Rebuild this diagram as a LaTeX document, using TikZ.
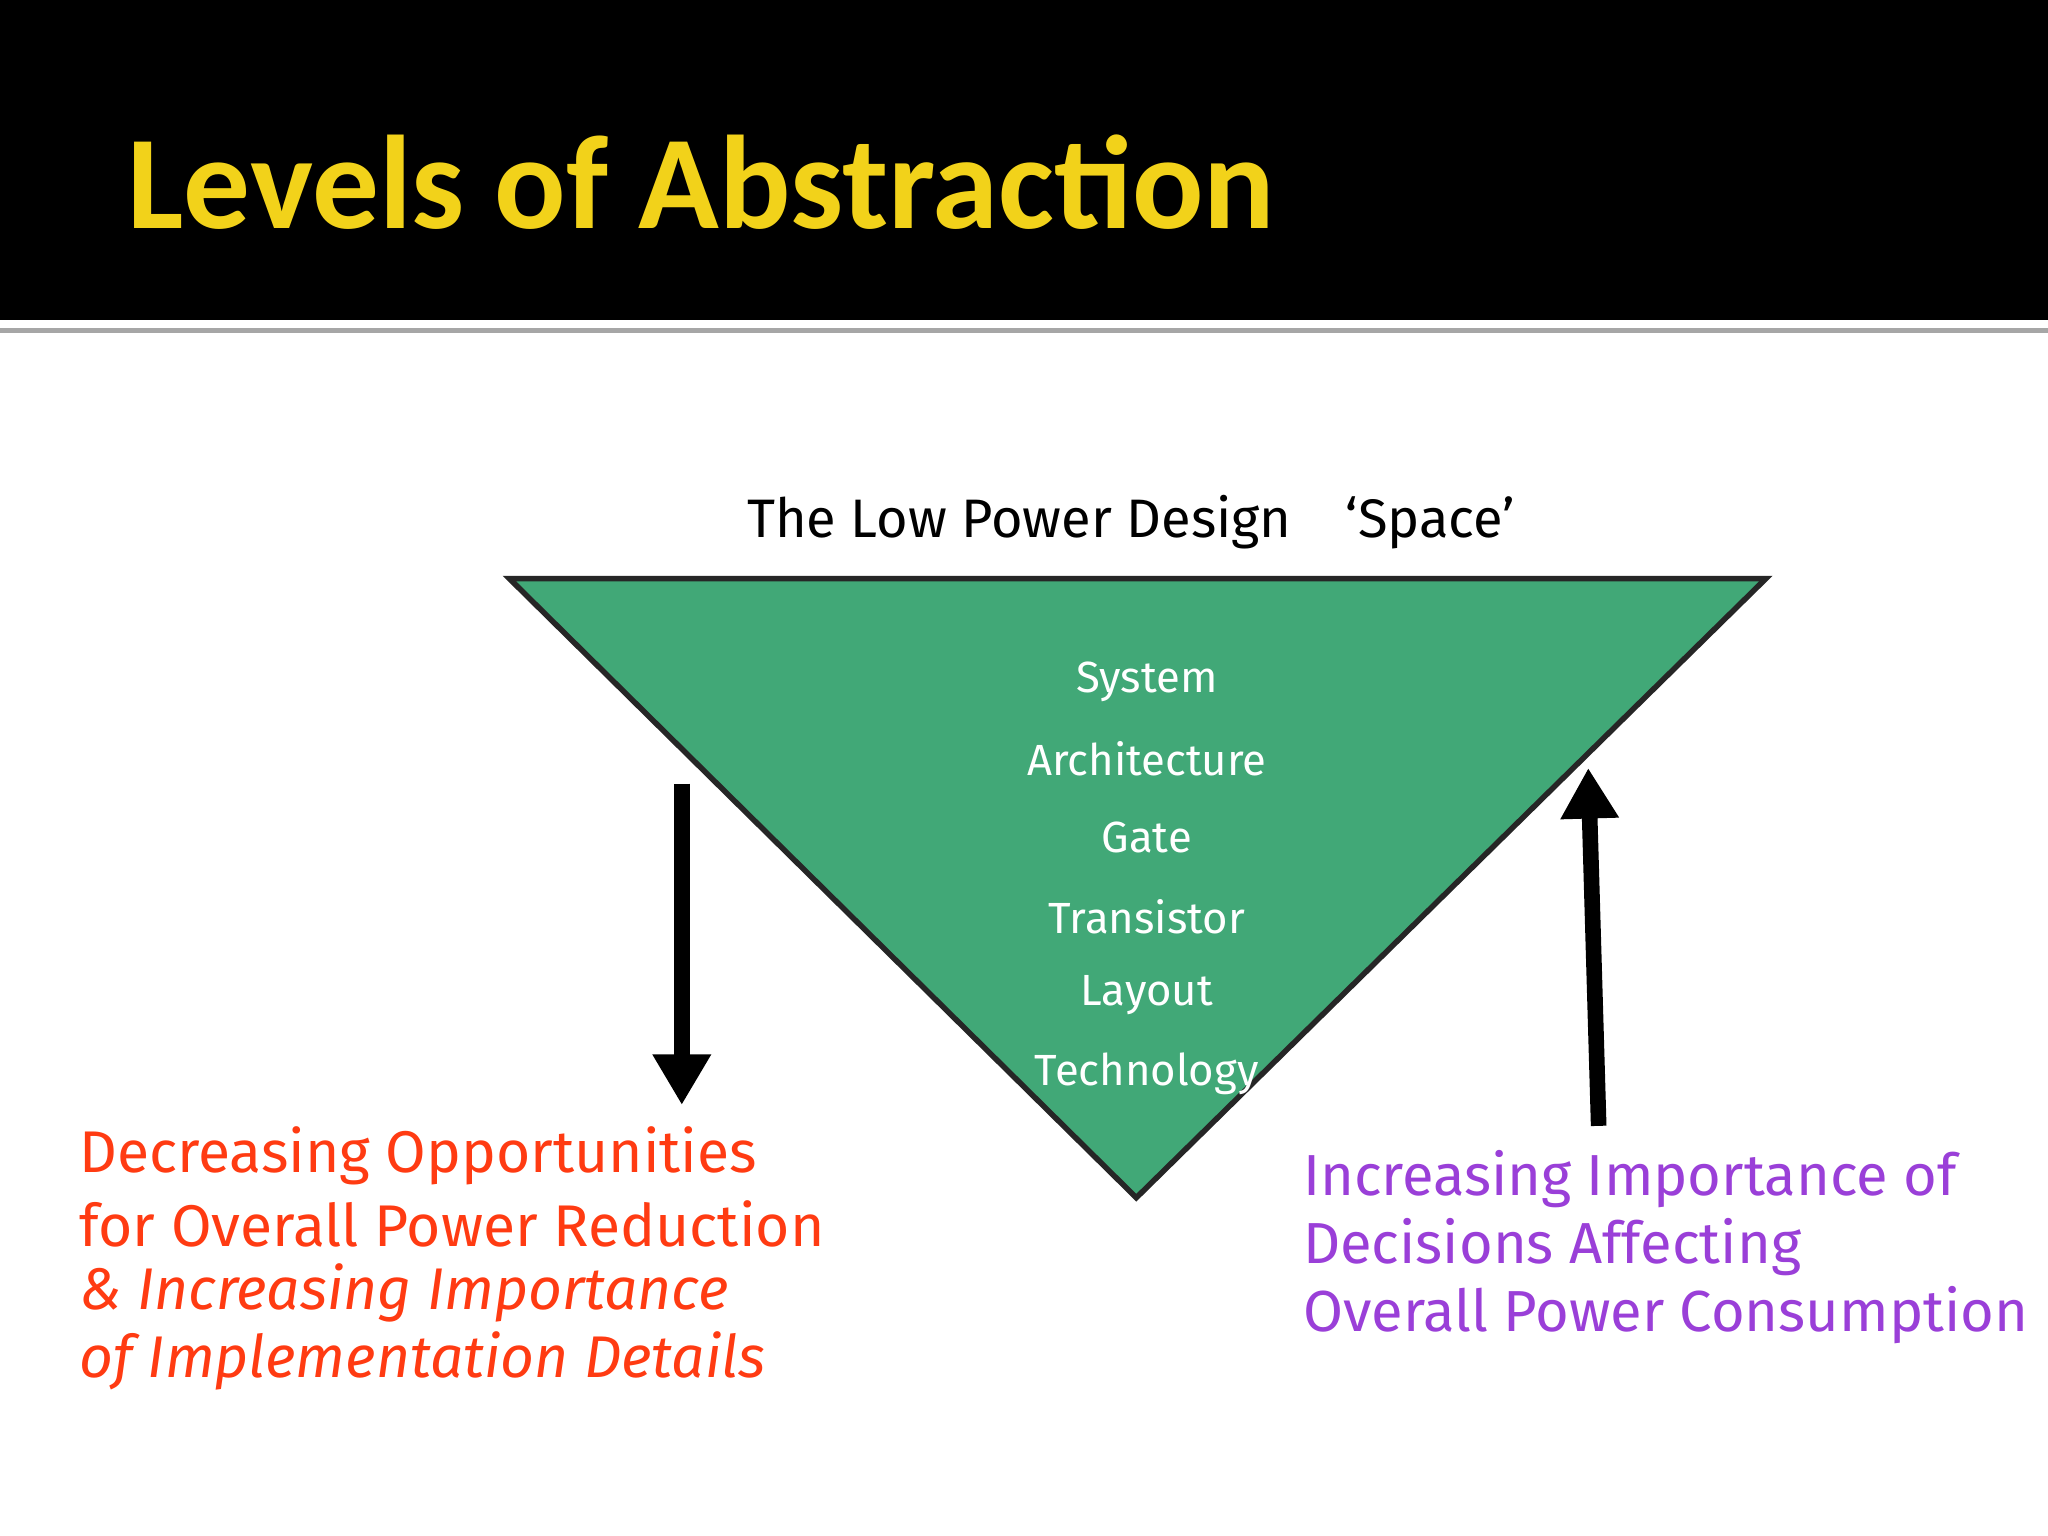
\documentclass[tikz,border=0pt]{standalone}
\usepackage{fontspec}
\usetikzlibrary{arrows.meta}
\setmainfont{Fira Sans}
\newfontfamily\titlefont{Carlito}
\definecolor{tgreen}{HTML}{41A877}
\definecolor{tred}{HTML}{FF3B12}
\definecolor{tpurple}{HTML}{9A3FD8}
\definecolor{tyellow}{HTML}{F2D21A}
\begin{document}
\begin{tikzpicture}[x=0.01cm,y=-0.01cm,
  lvl/.style={text=white,font=\fontsize{9.5}{11}\selectfont,anchor=center},
  redtxt/.style={text=tred,font=\fontsize{12.8}{15}\selectfont,anchor=west,inner sep=0},
  purptxt/.style={text=tpurple,font=\fontsize{12.6}{15}\selectfont,anchor=west,inner sep=0},
  bigarrow/.style={line width=3.4pt,-{Triangle[length=11pt,width=12pt]}}]
\useasboundingbox (0,0) rectangle (1568,1176);
\fill[white] (0,0) rectangle (1568,1176);
\fill[black] (0,0) rectangle (1568,245);
\draw[gray!70,line width=1pt] (0,253) -- (1568,253);
\node[anchor=base west,inner sep=0,text=tyellow,font=\titlefont\bfseries\fontsize{29}{32}\selectfont] (title) at (97,175) {Levels of Abstraction};
\node[anchor=center,font=\fontsize{11.8}{14}\selectfont] (head) at (866,400) {The Low Power Design\quad `Space'};
\draw[fill=tgreen,draw=black!85,line width=1.2pt] (390,443) -- (1352,443) -- (870,917) -- cycle;
\node[lvl] (l1) at (878,522) {System};
\node[lvl] (l2) at (878,581) {Architecture};
\node[lvl] (l3) at (878,641) {Gate};
\node[lvl] (l4) at (878,702) {Transistor};
\node[lvl] (l5) at (878,762) {Layout};
\node[lvl] (l6) at (878,822) {Technology};
\coordinate (a1) at (522,600); \coordinate (a2) at (522,846);
\coordinate (b1) at (1224,862); \coordinate (b2) at (1216,588);
\draw[bigarrow] (a1) -- (a2);
\draw[bigarrow] (b1) -- (b2);
\node[redtxt] (r1) at (60,885) {Decreasing Opportunities};
\node[redtxt] (r2) at (60,937) {for Overall Power Reduction};
\node[redtxt,font=\itshape\fontsize{12.8}{15}\selectfont] (r3) at (60,990) {\& Increasing Importance};
\node[redtxt,font=\itshape\fontsize{12.8}{15}\selectfont] (r4) at (60,1042) {of Implementation Details};
\node[purptxt] (p1) at (997,903) {Increasing Importance of};
\node[purptxt] (p2) at (997,955) {Decisions Affecting};
\node[purptxt] (p3) at (997,1007) {Overall Power Consumption};
\end{tikzpicture}
\end{document}
